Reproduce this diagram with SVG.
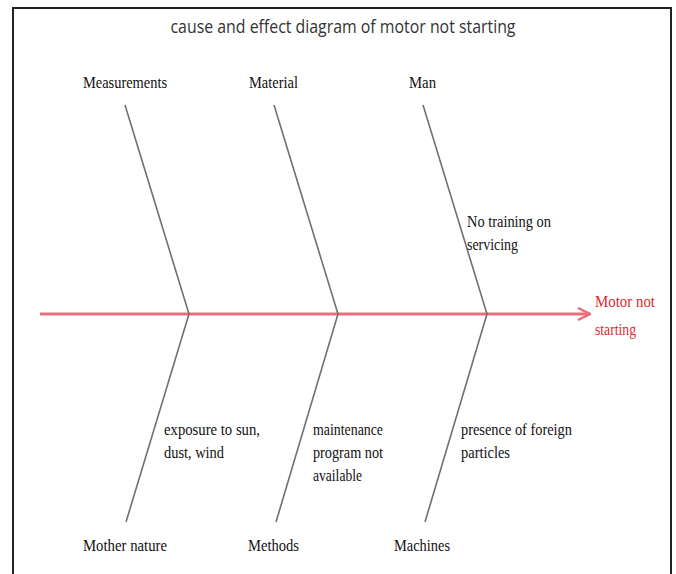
<svg xmlns="http://www.w3.org/2000/svg" width="676" height="574" viewBox="0 0 676 574">
<style>
.lbl{font-family:"Liberation Serif","Times New Roman",serif;font-size:16px;fill:#111}
.red{font-family:"Liberation Serif","Times New Roman",serif;font-size:16px;fill:#e0282e}
.title{font-family:"Open Sans","Liberation Sans",sans-serif;font-size:19px;fill:#333;text-anchor:middle}
.bone{stroke:#707070;stroke-width:1.6;fill:none}
</style>
<defs>
<marker id="arr" viewBox="0 0 14 14" refX="13" refY="7" markerWidth="14" markerHeight="14" markerUnits="userSpaceOnUse" orient="auto">
<path d="M1,1 L13,7 L1,13" fill="none" stroke="#e8707a" stroke-width="2.5"/>
</marker>
</defs>
<rect width="676" height="574" fill="#fff"/>
<path d="M13,574 L13,8 L671,8 L671,574" fill="none" stroke="#222" stroke-width="2"/>
<text class="title" x="343" y="33" textLength="345" lengthAdjust="spacingAndGlyphs">cause and effect diagram of motor not starting</text>
<g id="connectors">
<line x1="40" y1="314" x2="590" y2="314" stroke="#e8707a" stroke-width="3" marker-end="url(#arr)"/>
<polyline class="bone" points="125,105 189,314 126,522"/>
<polyline class="bone" points="274,105 338,314 276,522"/>
<polyline class="bone" points="423,105 487,314 425,522"/>
</g>
<g id="measurements"><text class="lbl" x="83" y="88" textLength="84" lengthAdjust="spacingAndGlyphs">Measurements</text></g>
<g id="material"><text class="lbl" x="249" y="88" textLength="49" lengthAdjust="spacingAndGlyphs">Material</text></g>
<g id="man"><text class="lbl" x="409" y="88" textLength="27" lengthAdjust="spacingAndGlyphs">Man</text></g>
<g id="mother-nature"><text class="lbl" x="83" y="551" textLength="84" lengthAdjust="spacingAndGlyphs">Mother nature</text></g>
<g id="methods"><text class="lbl" x="248" y="551" textLength="51" lengthAdjust="spacingAndGlyphs">Methods</text></g>
<g id="machines"><text class="lbl" x="394" y="551" textLength="56" lengthAdjust="spacingAndGlyphs">Machines</text></g>
<g id="no-training"><text class="lbl" x="467" y="227" textLength="84" lengthAdjust="spacingAndGlyphs">No training on</text><text class="lbl" x="467" y="250" textLength="51" lengthAdjust="spacingAndGlyphs">servicing</text></g>
<g id="exposure"><text class="lbl" x="164" y="435" textLength="96" lengthAdjust="spacingAndGlyphs">exposure to sun,</text><text class="lbl" x="164" y="458" textLength="60" lengthAdjust="spacingAndGlyphs">dust, wind</text></g>
<g id="maintenance"><text class="lbl" x="313" y="435" textLength="70" lengthAdjust="spacingAndGlyphs">maintenance</text><text class="lbl" x="313" y="458" textLength="70" lengthAdjust="spacingAndGlyphs">program not</text><text class="lbl" x="313" y="481" textLength="49" lengthAdjust="spacingAndGlyphs">available</text></g>
<g id="foreign"><text class="lbl" x="461" y="435" textLength="111" lengthAdjust="spacingAndGlyphs">presence of foreign</text><text class="lbl" x="461" y="458" textLength="49" lengthAdjust="spacingAndGlyphs">particles</text></g>
<g id="effect"><text class="red" x="595" y="307" textLength="60" lengthAdjust="spacingAndGlyphs">Motor not</text><text class="red" x="595" y="335" textLength="41" lengthAdjust="spacingAndGlyphs">starting</text></g>
</svg>
